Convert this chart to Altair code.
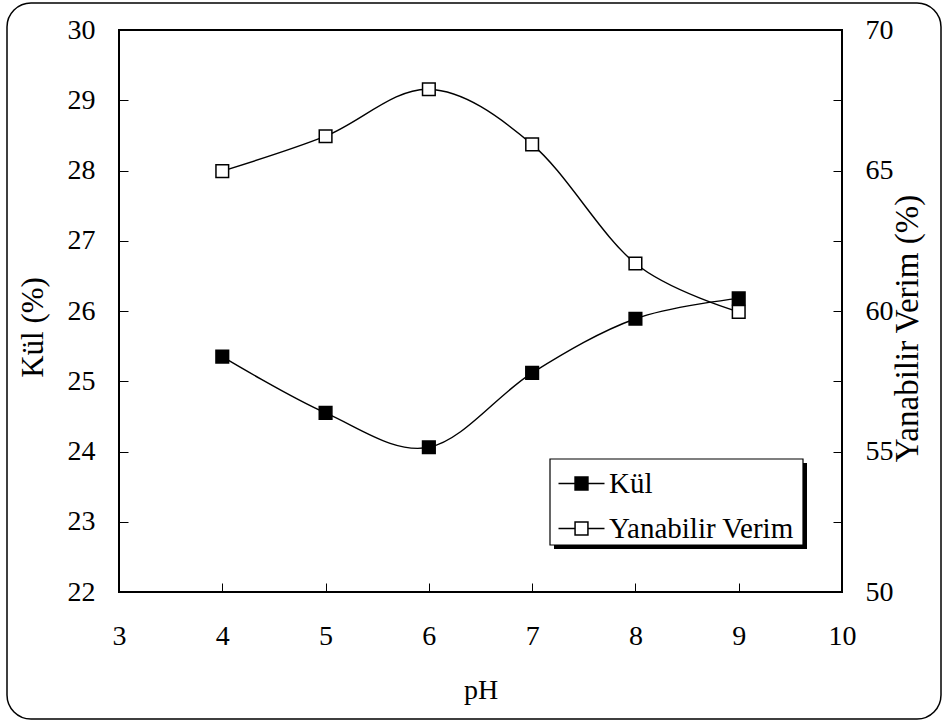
import altair as alt
import pandas as pd

# ---- data ----
ph = [4, 5, 6, 7, 8, 9]
kul = [25.35, 24.55, 24.06, 25.12, 25.89, 26.18]
verim = [64.98, 66.22, 67.89, 65.93, 61.69, 59.97]
series_names = ["Kül", "Yanabilir Verim"]
x_ticks = [3, 4, 5, 6, 7, 8, 9, 10]
left_ticks = [22, 23, 24, 25, 26, 27, 28, 29, 30]
right_ticks = [50, 52.5, 55, 57.5, 60, 62.5, 65, 67.5, 70]

df_k = pd.DataFrame({"pH": ph, "value": kul, "series": series_names[0]})
df_v = pd.DataFrame({"pH": ph, "value": verim, "series": series_names[1]})

FONT = "Liberation Serif"
FS = 28
W, H = 723, 562
OX, OY = 119, 30

fill_scale = alt.Scale(domain=series_names, range=["black", "white"])
legend = alt.Legend(
    title=None, orient="none", legendX=448, legendY=439, padding=0,
    symbolType="M-2,0H-0.56M0.56,0H2M-0.56,-0.56H0.56V0.56H-0.56Z",
    symbolSize=529, symbolStrokeColor="black", symbolStrokeWidth=1.5,
    symbolOpacity=1, labelFont=FONT, labelFontSize=29, labelColor="black",
    labelOffset=13, labelLimit=400, rowPadding=15, zindex=1,
)

x_enc = alt.X(
    "pH:Q",
    scale=alt.Scale(domain=[3, 10], nice=False, zero=False),
    axis=alt.Axis(
        values=x_ticks, title="pH", offset=-9, domain=False, tickSize=9,
        tickColor="black", tickWidth=1, labelPadding=30, labelFlush=False,
        labelOverlap=False, grid=False, titleY=107, titleBaseline="middle",
        format="d",
    ),
)

y_left = alt.Y(
    "value:Q",
    scale=alt.Scale(domain=[22, 30], nice=False, zero=False),
    axis=alt.Axis(
        orient="left", values=left_ticks, title="Kül (%)", offset=-9,
        domain=False, tickSize=9, tickColor="black", tickWidth=1,
        labelPadding=24, labelFlush=False, labelOverlap=False, grid=False,
        titleX=-95, titleY=297, titleAngle=270, titleBaseline="middle",
        titleAlign="center", titleFontSize=31, format="d",
    ),
)

y_right = alt.Y(
    "value:Q",
    scale=alt.Scale(domain=[50, 70], nice=False, zero=False),
    axis=alt.Axis(
        orient="right", values=right_ticks, title="Yanabilir Verim (%)",
        offset=-9, domain=False, tickSize=9, tickColor="black", tickWidth=1,
        labelPadding=23, labelFlush=False, labelOverlap=False, grid=False,
        labelExpr="datum.value % 5 == 0 ? format(datum.value, 'd') : ''",
        titleX=74, titleY=298, titleAngle=270, titleBaseline="middle",
        titleAlign="center", titleFontSize=33,
    ),
)

line_k = alt.Chart(df_k).mark_line(
    interpolate="cardinal", tension=0, color="black", strokeWidth=1.4
).encode(x=x_enc, y=y_left)
pts_k = alt.Chart(df_k).mark_point(
    shape="square", size=160, filled=True, opacity=1, stroke="black", strokeWidth=1.5
).encode(x=x_enc, y=y_left, fill=alt.Fill("series:N", scale=fill_scale, legend=legend))

line_v = alt.Chart(df_v).mark_line(
    interpolate="cardinal", tension=0, color="black", strokeWidth=1.4
).encode(x=x_enc, y=y_right)
pts_v = alt.Chart(df_v).mark_point(
    shape="square", size=160, filled=True, opacity=1, stroke="black", strokeWidth=1.5
).encode(x=x_enc, y=y_right, fill=alt.Fill("series:N", scale=fill_scale, legend=legend))

deco = pd.DataFrame({"k": [0]})
frame = alt.Chart(deco).mark_rect(
    fillOpacity=0, stroke="black", strokeWidth=1.5, cornerRadius=24
).encode(x=alt.value(7 - OX), x2=alt.value(941 - OX), y=alt.value(3 - OY), y2=alt.value(719 - OY))
shadow = alt.Chart(deco).mark_rect(color="black").encode(
    x=alt.value(554 - OX), x2=alt.value(807 - OX), y=alt.value(463 - OY), y2=alt.value(549 - OY)
)
box = alt.Chart(deco).mark_rect(fill="white", stroke="black", strokeWidth=1.2).encode(
    x=alt.value(550 - OX), x2=alt.value(803 - OX), y=alt.value(459 - OY), y2=alt.value(545 - OY)
)

left = alt.layer(line_k, pts_k)
right = alt.layer(line_v, pts_v)

chart = alt.layer(frame, shadow, box, left, right).resolve_scale(
    y="independent"
).properties(
    width=W, height=H,
    autosize=alt.AutoSizeParams(type="none"),
    padding={"left": OX, "top": OY, "right": 948 - OX - W, "bottom": 728 - OY - H},
    background="white",
).configure_view(
    stroke="black", strokeWidth=2
).configure_axis(
    labelFont=FONT, labelFontSize=FS, labelColor="black",
    titleFont=FONT, titleFontSize=FS, titleColor="black", titleFontWeight="normal",
)

chart.save("out.html", embed_options={"renderer": "svg", "actions": False})
